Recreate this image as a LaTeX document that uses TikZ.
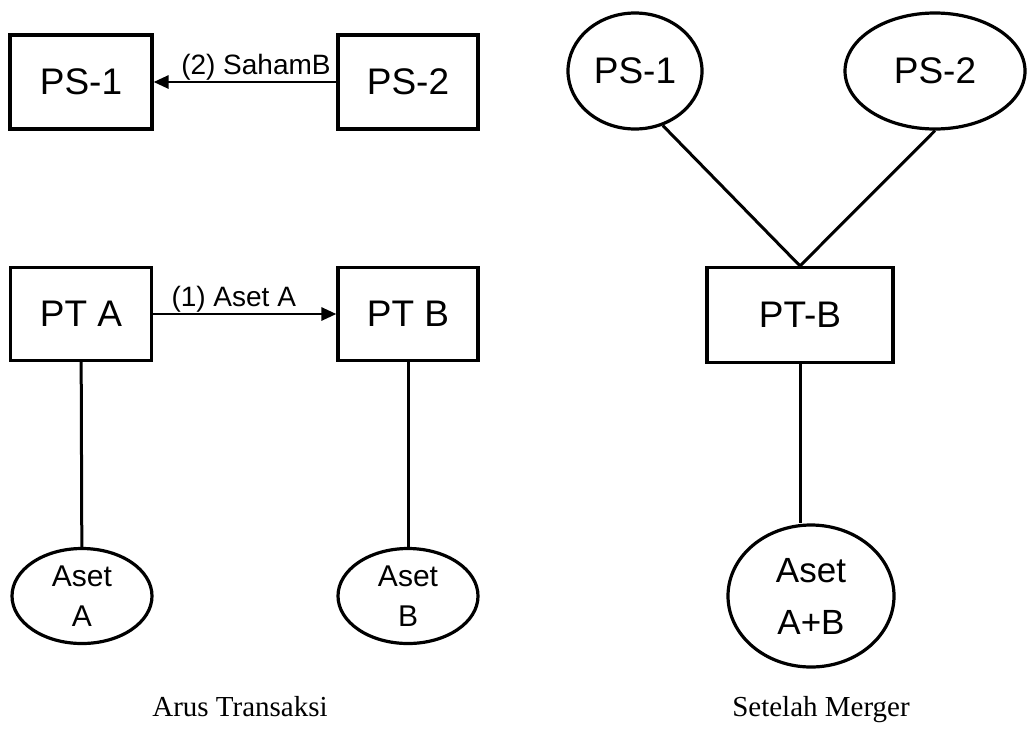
\documentclass[tikz,border=0pt]{standalone}
\usepackage{fontspec}
\setmainfont{Liberation Serif}
\newfontfamily\handfont{Liberation Sans}
\usetikzlibrary{arrows.meta,shapes.geometric}
\begin{document}
\begin{tikzpicture}[x=1pt,y=-1pt,
  box/.style={draw,line width=3.2pt,rectangle,inner sep=0pt,font=\handfont\fontsize{37}{40}\selectfont},
  oval/.style={draw,line width=3.2pt,ellipse,inner sep=-12pt,align=center,font=\handfont\fontsize{30}{40}\selectfont},
  link/.style={line width=3pt},
  flow/.style={line width=2.8pt,-{Triangle[length=15pt,width=13pt]}},
  flowlabel/.style={font=\handfont\fontsize{28}{30}\selectfont,inner sep=0pt,anchor=south},
  caption/.style={font=\fontsize{29}{34}\selectfont,anchor=base}]
\useasboundingbox (0,0) rectangle (1027,737);

% ---- Arus Transaksi ----
\node[box,minimum width=142pt,minimum height=94pt] (ps1) at (81,82) {PS-1};
\node[box,minimum width=140pt,minimum height=94pt] (ps2) at (408,82) {PS-2};
\node[box,minimum width=141pt,minimum height=93pt] (pta) at (81,314) {PT A};
\node[box,minimum width=140pt,minimum height=93pt] (ptb) at (408,314) {PT B};
\node[oval,minimum width=140pt,minimum height=95pt] (aa) at (82,596) {Aset\\A};
\node[oval,minimum width=140pt,minimum height=95pt] (ab) at (408,596) {Aset\\B};

\draw[flow] (ps2) -- node[flowlabel,pos=0.44] {(2) SahamB} (ps1);
\draw[flow] (pta) -- node[flowlabel,pos=0.44] {(1) Aset A} (ptb);
\draw[link] (pta) -- (aa);
\draw[link] (ptb) -- (ab);

\node[caption] (cap1) at (240,716) {Arus Transaksi};

% ---- Setelah Merger ----
\node[oval,minimum width=134pt,minimum height=116pt,font=\handfont\fontsize{37}{40}\selectfont] (mp1) at (635,71) {PS-1};
\node[oval,minimum width=180pt,minimum height=116pt,font=\handfont\fontsize{37}{40}\selectfont] (mp2) at (935,71) {PS-2};
\node[box,minimum width=186pt,minimum height=95pt] (mb) at (800,315) {PT-B};
\node[oval,minimum width=166pt,minimum height=142pt,font=\handfont\fontsize{35}{52}\selectfont] (mab) at (811,596) {Aset\\A+B};

\draw[link] (mp1.-63) -- (mb.north);
\draw[link] (mp2.south) -- (mb.north);
\draw[link] (mb.south) -- (mb.south |- mab.north);

\node[caption] (cap2) at (821,716) {Setelah Merger};
\end{tikzpicture}
\end{document}
